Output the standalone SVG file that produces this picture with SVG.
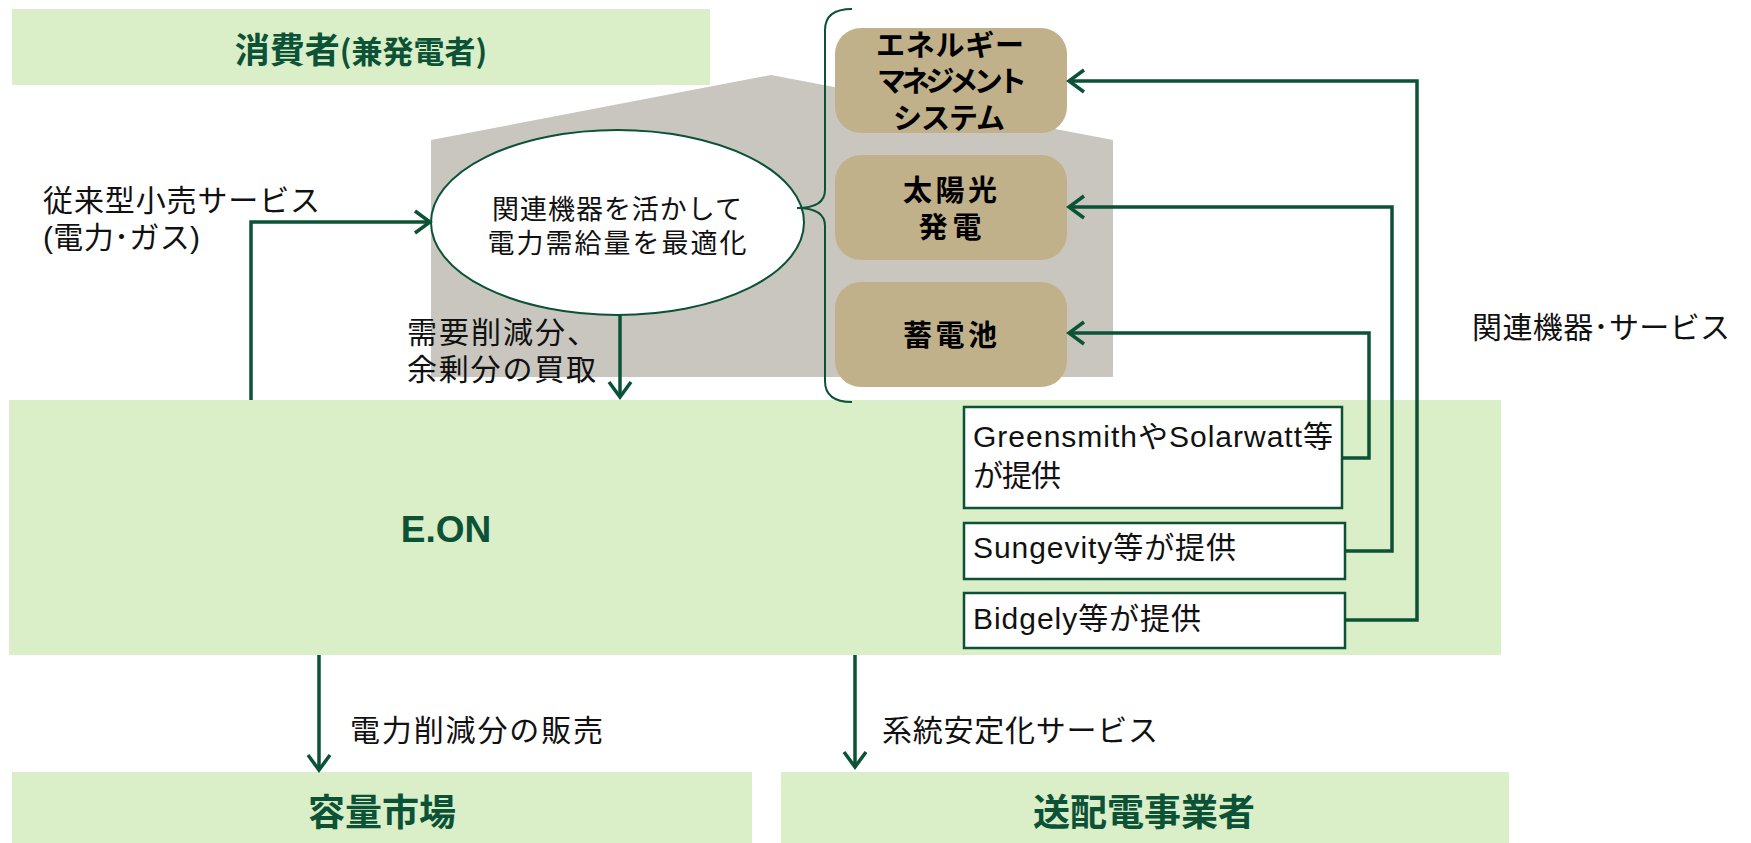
<svg xmlns="http://www.w3.org/2000/svg" width="1751" height="843" viewBox="0 0 1751 843">
<style>
.band{fill:#DAEEC7}
.tan{fill:#C0B18A}
.hd{font-family:"Noto Sans CJK JP",sans-serif;font-weight:bold;fill:#0B5236}
.eon{font-family:"Liberation Sans",Arial,sans-serif;font-weight:bold;fill:#0B5236;font-size:37px;text-anchor:middle}
.tb{font-family:"Noto Sans CJK JP",sans-serif;font-weight:bold;fill:#000;font-size:29px;text-anchor:middle}
.lb{font-family:"Liberation Sans","Noto Sans CJK JP",sans-serif;fill:#111;font-size:30px}
.el{font-family:"Liberation Sans","Noto Sans CJK JP",sans-serif;fill:#111;font-size:27px;text-anchor:middle}
.wbox{fill:#fff;stroke:#0B5236;stroke-width:2.5}
.con{fill:none;stroke:#0B5236;stroke-width:3.5}
.thin{fill:none;stroke:#0B5236;stroke-width:2}
</style>
<defs>
<marker id="ah" markerUnits="userSpaceOnUse" markerWidth="40" markerHeight="40" viewBox="-20 -20 40 40" refX="0" refY="0" orient="auto" overflow="visible">
<path d="M-15,-11 L0,0 L-15,11" fill="none" stroke="#0B5236" stroke-width="3.5"/>
</marker>
</defs>
<rect width="1751" height="843" fill="#fff"/>

<g id="house">
<polygon points="431,140 771,75 1113,140 1113,377 431,377" fill="#C8C6BE"/>
</g>

<g id="consumer">
<rect class="band" x="12" y="9" width="698" height="76"/>
<text class="hd" x="361" y="63" text-anchor="middle" font-size="35">消費者<tspan font-size="31">(兼発電者)</tspan></text>
</g>

<g id="eon">
<rect class="band" x="9" y="400" width="1492" height="255"/>
<text class="eon" x="446" y="542">E.ON</text>
</g>

<g id="capacity">
<rect class="band" x="12" y="772" width="740" height="71"/>
<text class="hd" x="382" y="826" text-anchor="middle" font-size="37">容量市場</text>
</g>

<g id="tso">
<rect class="band" x="781" y="772" width="728" height="71"/>
<text class="hd" x="1144" y="826" text-anchor="middle" font-size="37">送配電事業者</text>
</g>

<g id="optimize">
<ellipse cx="617.5" cy="222.5" rx="186.5" ry="92.5" fill="#fff" stroke="#0B5236" stroke-width="2"/>
<text class="el" x="617" y="219" textLength="250">関連機器を活かして</text>
<text class="el" x="617" y="253" textLength="259">電力需給量を最適化</text>
</g>

<g id="brace">
<path class="thin" d="M852,9 Q825,9 825,30 V190 Q825,208 797,208 Q825,208 825,226 V381 Q825,402 852,402"/>
</g>

<g id="ems">
<rect class="tan" x="835" y="28" width="232" height="105" rx="26"/>
<text class="tb" x="950" y="56" textLength="148">エネルギー</text>
<text class="tb" x="952" y="92" textLength="150">マネジメント</text>
<text class="tb" x="949" y="129" textLength="112">システム</text>
</g>

<g id="pv">
<rect class="tan" x="835" y="155" width="232" height="105" rx="26"/>
<text class="tb" x="950" y="201" textLength="94">太陽光</text>
<text class="tb" x="950" y="238" textLength="63">発電</text>
</g>

<g id="battery">
<rect class="tan" x="835" y="282" width="232" height="105" rx="26"/>
<text class="tb" x="950" y="346" textLength="94">蓄電池</text>
</g>

<g id="greensmith">
<rect class="wbox" x="964" y="407" width="378" height="101"/>
<text class="lb" x="973" y="447" textLength="360">GreensmithやSolarwatt等</text>
<text class="lb" x="973" y="486" textLength="88">が提供</text>
</g>

<g id="sungevity">
<rect class="wbox" x="964" y="523" width="381" height="56"/>
<text class="lb" x="973" y="558" textLength="263">Sungevity等が提供</text>
</g>

<g id="bidgely">
<rect class="wbox" x="964" y="593" width="381" height="55"/>
<text class="lb" x="973" y="629" textLength="228">Bidgely等が提供</text>
</g>

<g id="connectors">
<path class="con" d="M251,400 V222 H430" marker-end="url(#ah)"/>
<path class="con" d="M620,315 V397" stroke-width="3" marker-end="url(#ah)"/>
<path class="con" d="M319,655 V770" stroke-width="3" marker-end="url(#ah)"/>
<path class="con" d="M855,655 V767" stroke-width="3" marker-end="url(#ah)"/>
<path class="con" d="M1345,620 H1417 V81 H1069" marker-end="url(#ah)"/>
<path class="con" d="M1345,551 H1392 V207 H1069" marker-end="url(#ah)"/>
<path class="con" d="M1342,458 H1369 V333 H1069" marker-end="url(#ah)"/>
</g>

<g id="labels">
<text class="lb" x="43" y="211" textLength="277">従来型小売サービス</text>
<text class="lb" x="43" y="248" textLength="157">(電力･ガス)</text>
<text class="lb" x="407" y="343" textLength="190">需要削減分、</text>
<text class="lb" x="407" y="380" textLength="189">余剰分の買取</text>
<text class="lb" x="350" y="741" textLength="253">電力削減分の販売</text>
<text class="lb" x="882" y="741" textLength="276">系統安定化サービス</text>
<text class="lb" x="1472" y="338" textLength="258">関連機器･サービス</text>
</g>
</svg>
